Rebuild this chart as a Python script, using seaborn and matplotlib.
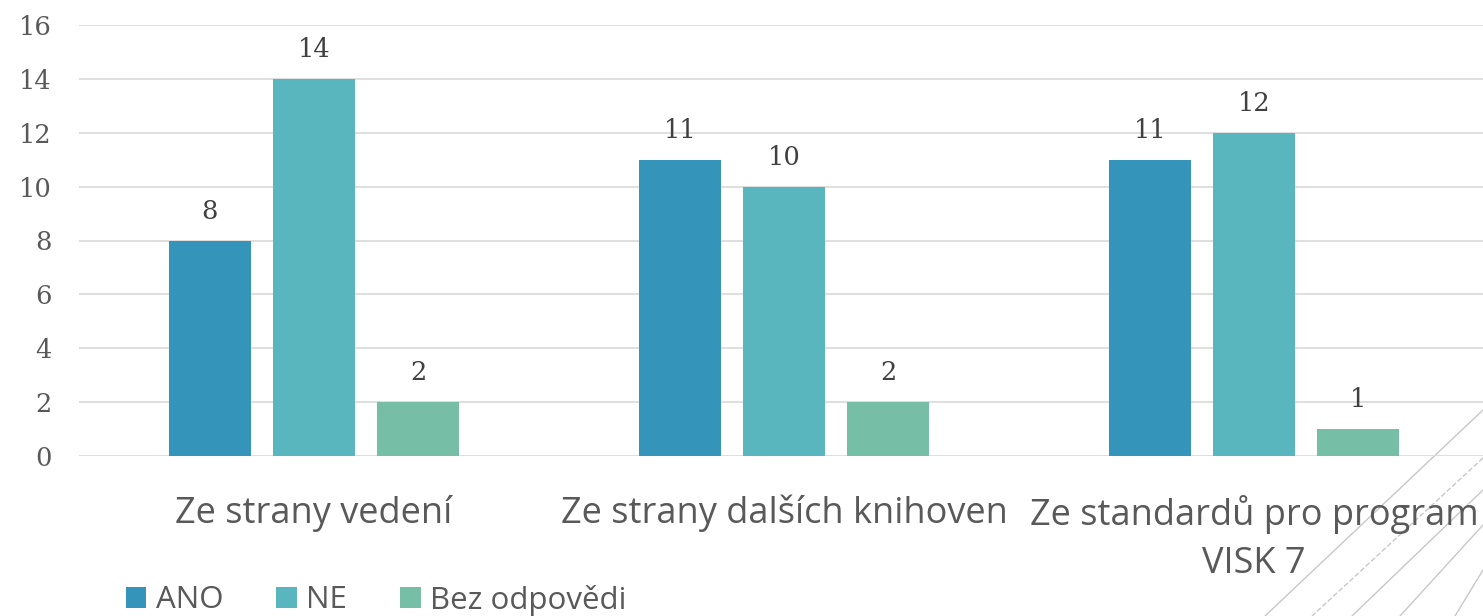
import matplotlib
matplotlib.use("Agg")
import matplotlib.pyplot as plt
import seaborn as sns
import pandas as pd
from matplotlib.lines import Line2D

categories = ["Ze strany vedení", "Ze strany dalších knihoven", "Ze standardů pro program\nVISK 7"]
series_names = ["ANO", "NE", "Bez odpovědi"]
ano = [8, 11, 11]
ne = [14, 10, 12]
bez = [2, 2, 1]
yticks = [0, 2, 4, 6, 8, 10, 12, 14, 16]
colors = ["#3594BA", "#59B6BF", "#76BEA6"]

rows = []
for name, vals in zip(series_names, [ano, ne, bez]):
    for c, v in zip(categories, vals):
        rows.append({"cat": c, "resp": name, "val": v})
df = pd.DataFrame(rows)

sns.set_theme(style="white")
plt.rcParams["font.family"] = ["Open Sans", "DejaVu Sans"]

W, H = 1483, 616
fig = plt.figure(figsize=(W / 100, H / 100), dpi=100)
ax = fig.add_axes([79 / W, (H - 456) / H, (W - 79) / W, (456 - 25) / H])
ax.patch.set_visible(False)

sns.barplot(data=df, x="cat", y="val", hue="resp", palette=colors,
            width=0.664, gap=0.22, ax=ax, saturation=1, legend=True,
            linewidth=0, edgecolor="none", zorder=3)

ax.set_ylim(0, 16)
ax.set_xlim(-0.5, 2.5 - 6 / 470)
ax.set_yticks(yticks)
ax.yaxis.grid(True, color="#D9D9D9", linewidth=1.2, zorder=0)
ax.set_axisbelow(True)
for s in ax.spines.values():
    s.set_visible(False)
ax.set_xlabel("")
ax.set_ylabel("")
ax.tick_params(axis="both", length=0)
ax.tick_params(axis="y", pad=19.5)
ax.tick_params(axis="x", pad=28)

for lab in ax.get_yticklabels():
    lab.set_fontfamily("DejaVu Serif")
    lab.set_fontsize(18.5)
    lab.set_color("#595959")
for lab in ax.get_xticklabels():
    lab.set_fontsize(26)
    lab.set_color("#595959")
    lab.set_linespacing(1.45)

for cont in ax.containers:
    ax.bar_label(cont, padding=12, fontsize=18.5, color="#404040",
                 fontfamily="DejaVu Serif")

handles, labels = ax.get_legend_handles_labels()
if ax.legend_:
    ax.legend_.remove()
leg = fig.legend(handles, labels, loc="lower left", bbox_to_anchor=(113 / W, -12 / H),
                 ncol=3, frameon=False, fontsize=22.5, handlelength=0.67,
                 handleheight=0.67, handletextpad=0.29, columnspacing=1.7,
                 borderaxespad=0)
for t in leg.get_texts():
    t.set_color("#595959")

# decorative diagonal lines (slide background)
deco = [((1483, 410), (1265, 616), "-"),
        ((1483, 458), (1312, 616), "--"),
        ((1483, 490), (1352, 616), "-"),
        ((1483, 525), (1400, 616), "-"),
        ((1483, 570), (1455, 616), "-")]
for (x0, y0), (x1, y1), ls in deco:
    fig.add_artist(Line2D([x0 / W, x1 / W], [1 - y0 / H, 1 - y1 / H],
                          transform=fig.transFigure, color="#C8C8C8",
                          linewidth=1.0, linestyle=ls, zorder=0))

fig.savefig("out.png", dpi=100)
